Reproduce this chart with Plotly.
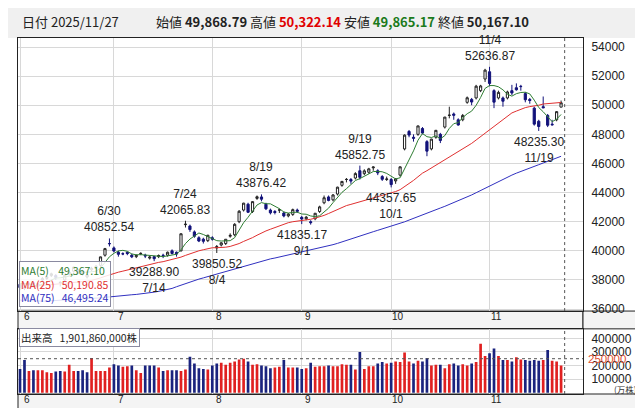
import plotly.graph_objects as go
import pandas as pd
import numpy as np

# ---- data ----
holidays = ["2025-07-21","2025-08-11","2025-09-15","2025-09-23","2025-10-13","2025-11-03","2025-11-24"]
dates = [d for d in pd.bdate_range("2025-06-02","2025-11-27") if d.strftime("%Y-%m-%d") not in holidays]

open_ = [37700,37450,37700,37800,37600,38000,38100,38300,38300,37800,38000,38400,38600,38700,38600,38200,38700,38900,39000,39700,40500,
 40200,39900,39800,39900,39700,39600,39800,39700,39500,39600,39600,39700,39700,40000,39900,40000,41800,41700,41300,40900,40800,40700,
 40900,40200,40400,40500,41000,41100,42000,42800,43200,42700,43600,43700,43200,42800,42700,42800,42600,42400,42500,42800,
 42300,42200,42000,42200,42700,43300,43700,43500,43900,44500,44900,44900,45000,45500,45300,45400,45700,45500,45100,44900,
 44900,44800,45200,47000,48200,47800,48000,48400,47500,47000,47800,48000,48500,49300,49400,49000,49000,50200,50400,50500,51000,51800,
 52300,51000,50500,50500,50500,51000,51200,51300,50800,50400,49800,48900,49900,49300,48700,49000,49868.79]
high = [37700,37600,37850,37900,37800,38200,38300,38500,38400,37900,38350,38600,38900,38750,38700,38400,38900,39000,39600,40200,40852.54,
 40300,40000,39900,39950,39800,39750,39900,39800,39650,39650,39750,39800,39950,40100,39950,41200,42065.83,41800,41400,41000,40900,41100,
 41000,40400,40600,40800,41200,41900,42800,43300,43300,43400,43800,43876.42,43300,42900,42800,42900,42700,42600,42900,42900,
 42400,42400,42100,42600,43100,43800,43800,43900,44400,44800,45000,45000,45400,45852.75,45600,45700,45800,45600,45200,45100,
 45000,45000,45800,48000,48300,48000,48600,48500,47600,47700,48300,48100,49200,49900,49500,49100,49400,50600,50500,51400,51400,52500,
 52636.87,51100,51000,50600,51000,51400,51500,51400,50900,50500,49900,49000,50600,49400,49000,49600,50322.14]
low = [37300,37300,37600,37500,37500,37900,38000,38200,38000,37550,37900,38300,38500,38400,38300,38100,38600,38800,38900,39600,40300,
 39900,39600,39700,39700,39500,39500,39700,39500,39400,39288.90,39500,39500,39600,39750,39600,39950,41600,41300,40900,40600,40500,40600,
 40700,39850.52,40300,40400,40900,41000,41900,42700,42600,42600,43500,43400,42800,42500,42500,42600,42300,42300,42400,42600,
 41835.17,42100,41800,42100,42600,43200,43400,43400,43800,44400,44700,44600,44900,44900,45200,45300,45500,45200,44800,44800,
 44357.65,44600,45100,46900,47800,47500,47900,48000,46500,46900,47700,47400,48400,49100,49000,48600,48900,50100,50000,50400,50900,51600,
 51300,49800,50400,49900,50400,50700,51000,51000,50200,50100,48600,48235.30,49800,48500,48600,48900,49865.17]
close = [37470,37446,37747,37554,37741,38088,38211,38421,38173,37834,38311,38536,38885,38488,38403,38354,38790,38942,39584,40150,40487,
 39986,39762,39785,39810,39587,39688,39821,39646,39569,39459,39678,39663,39901,39819,39774,41171,41826,41456,40998,40674,40654,41069,
 40799,40290,40549,40794,41059,41820,42718,43274,42649,43378,43714,43546,42888,42610,42633,42807,42394,42520,42828,42718,
 42188,42310,41938,42580,43018,43643,43459,43837,44372,44768,44902,44790,45303,45045,45493,45630,45754,45354,44913,44932,
 44550,44936,45769,47944,47950,47734,48580,48088,46847,47672,48277,47582,49185,49316,49307,48641,49299,50512,50219,51307,51325,52411,
 51497,50212,50883,50276,50911,50842,51063,51281,50376,50323,48702,48537,49823,48625,48659,49559,50167.10]
# closes before June, used only for moving averages
pre_close = [39150,39270,39100,38780,38680,38250,37260,37150,37160,37150,37780,37700,37420,37030,36890,36820,37050,37530,37000,37390,
 37750,37400,38170,37450,37610,37600,38000,37800,37120,36120,35620,35620,35730,34740,33780,31140,33010,31710,34610,33590,33980,34270,
 34380,33920,34730,34280,34220,35040,35040,35840,35700,35840,36050,36450,36830,37500,37500,38180,37530,37210,37750,37750,38000,37500,
 37300,37500,37530,37160,36990,37530,37720,37620,37720,38000,37970]
volume = [175,240,160,165,165,165,150,145,155,160,155,205,160,160,165,150,255,160,160,160,185,
 210,200,190,195,200,165,145,200,200,200,185,160,165,165,165,160,170,265,215,180,175,170,
 200,215,220,205,220,230,245,250,230,205,210,200,195,180,185,190,240,185,185,185,
 175,180,220,190,195,195,200,195,195,210,205,205,170,300,175,195,195,215,225,215,
 220,230,225,295,230,215,235,230,255,200,205,205,180,210,215,200,210,200,215,225,360,270,
 290,325,270,240,240,230,260,245,240,235,240,235,240,315,235,230,200]
volume = [v*1000 for v in volume]
month_labels = ["6","7","8","9","10","11"]
price_ticks = [36000,38000,40000,42000,44000,46000,48000,50000,52000,54000]
vol_ticks = [100000,200000,300000,400000]
annots = [("6/30","h"),("7/14","l"),("7/24","h"),("8/4","l"),("8/19","h"),("9/1","l"),("9/19","h"),("10/1","l"),("11/4","h"),("11/19","l")]

n = len(close)
x = list(range(n))
allc = pd.Series(pre_close + close)
ma5 = allc.rolling(5).mean().iloc[-n:].values
ma25 = allc.rolling(25).mean().iloc[-n:].values
ma75 = allc.rolling(75).mean().iloc[-n:].values
prev = [pre_close[-1]] + close[:-1]
vcol = ["#e02020" if c >= p else "#1a237e" for c, p in zip(close, prev)]
month_start = [i for i in range(n) if i == 0 or dates[i].month != dates[i-1].month]

PD0, PD1 = 0.233, 0.183   # price domain bottom, volume domain top
BOT = 22
NAVY = "#12127a"
fig = go.Figure()
fig.add_trace(go.Scatter(x=x, y=ma75, mode="lines", line=dict(color="#3030c0", width=1), yaxis="y"))
fig.add_trace(go.Scatter(x=x, y=ma25, mode="lines", line=dict(color="#e03030", width=1), yaxis="y"))
fig.add_trace(go.Scatter(x=x, y=ma5, mode="lines", line=dict(color="#2e7d32", width=1), yaxis="y"))
fig.add_trace(go.Candlestick(x=x, open=open_, high=high, low=low, close=close, yaxis="y",
    increasing=dict(fillcolor="white", line=dict(color="#222222", width=1)),
    decreasing=dict(fillcolor=NAVY, line=dict(color=NAVY, width=1)), whiskerwidth=0))
fig.add_trace(go.Bar(x=x, y=volume, marker=dict(color=vcol, line=dict(width=0)), width=0.6, yaxis="y2", xaxis="x2"))

FONT = "Liberation Sans, Noto Sans CJK JP"
anns = []
for d, kind in annots:
    m, dd = map(int, d.split("/"))
    i = next(k for k in range(n) if dates[k].month == m and dates[k].day == dd)
    if kind == "h":
        anns.append(dict(x=i, y=high[i], text=f"{d}<br>{high[i]:.2f}", showarrow=False, yanchor="bottom", yshift=2,
                         font=dict(size=12, color="#222")))
    else:
        anns.append(dict(x=i, y=low[i], text=f"{low[i]:.2f}<br>{d}", showarrow=False, yanchor="top", yshift=-2,
                         font=dict(size=12, color="#222")))
for xr_ in ["x", "x2"]:
    yy = PD0 if xr_ == "x" else 0.0
    for i, lab in zip(month_start, month_labels):
        anns.append(dict(x=i + 1.5, y=yy, xref=xr_, yref="paper", text=lab, showarrow=False, yanchor="top",
                         borderpad=0, yshift=1, font=dict(size=10, color="#222")))
anns += [
    dict(x=0.004, y=1.0, xref="paper", yref="paper", yshift=28, xanchor="left", yanchor="top", showarrow=False,
         text="日付 2025/11/27", font=dict(size=13, color="#222", family="Noto Sans CJK JP")),
    dict(x=0.24, y=1.0, xref="paper", yref="paper", yshift=28, xanchor="left", yanchor="top", showarrow=False,
         text="始値 <b>49,868.79</b> 高値 <b><span style='color:#e00000'>50,322.14</span></b> 安値 <b><span style='color:#1b7a1b'>49,865.17</span></b> 終値 <b>50,167.10</b>",
         font=dict(size=13, color="#222", family="Noto Sans CJK JP")),
    dict(x=0.002, y=PD0 + 0.01, xref="paper", yref="paper", xanchor="left", yanchor="bottom", showarrow=False, align="left",
         text="<span style='color:#2e7d32'>MA(5)    49,367.10</span><br><span style='color:#e03030'>MA(25)   50,190.85</span><br><span style='color:#3030c0'>MA(75)   46,495.24</span>",
         bgcolor="rgba(255,255,255,0.85)", bordercolor="#8a8aa0", borderwidth=1, borderpad=1,
         font=dict(size=10.5, family="Noto Sans CJK JP")),
    dict(x=0.002, y=PD1 + 0.002, xref="paper", yref="paper", xanchor="left", yanchor="top", showarrow=False,
         text="出来高   1,901,860,000株", bgcolor="white", bordercolor="#8a8aa0", borderwidth=1, borderpad=1,
         font=dict(size=10.5, color="#222", family="Noto Sans CJK JP")),
    dict(x=1.0, y=250000, xref="paper", yref="y2", xanchor="left", xshift=3, showarrow=False, text="250000",
         font=dict(size=11.5, color="#e05030")),
    dict(x=1.0, y=0.0, xref="paper", yref="paper", xanchor="left", yanchor="bottom", xshift=30, yshift=-2, showarrow=False, text="(万株)",
         borderpad=0, font=dict(size=8.5, color="#333", family="Noto Sans CJK JP")),
]
anns = [dict(a, xref=a.get("xref", "x"), yref=a.get("yref", "y")) for a in anns]

shapes = [
    dict(type="rect", xref="paper", yref="paper", x0=-0.02, x1=1.2, y0=1.0, y1=1.09, fillcolor="#f0f0f0", line_width=0, layer="below"),
    dict(type="rect", xref="paper", yref="paper", x0=0, x1=1.0, y0=PD1, y1=PD0, fillcolor="#f4f4f4", line=dict(color="#222", width=1), layer="below"),
    dict(type="rect", xref="paper", yref="paper", x0=0, x1=1.2, y0=-0.06, y1=0.0, fillcolor="#f4f4f4", line=dict(color="#222", width=1), layer="below"),
    dict(type="rect", xref="paper", yref="paper", x0=1.0, x1=1.2, y0=PD1, y1=PD0, fillcolor="#f4f4f4", line=dict(color="#222", width=1), layer="below"),
    dict(type="line", xref="x", yref="paper", x0=n - 0.2, x1=n - 0.2, y0=PD0, y1=1, line=dict(color="#555", width=1, dash="dot")),
    dict(type="line", xref="x2", yref="paper", x0=n - 0.2, x1=n - 0.2, y0=0, y1=PD1, line=dict(color="#555", width=1, dash="dot")),
    dict(type="line", xref="paper", yref="y2", x0=0, x1=1, y0=250000, y1=250000, line=dict(color="#555", width=1, dash="dot")),
]

xr = [-0.45, n - 1 + 4.9]
fig.update_layout(
    width=643, height=408, margin=dict(l=10, r=68, t=30, b=BOT),
    paper_bgcolor="white", plot_bgcolor="white", showlegend=False,
    font=dict(family=FONT, size=12, color="#222"),
    xaxis=dict(domain=[0, 1], range=xr, tickvals=month_start, showticklabels=False, showgrid=True, gridcolor="#d8d8d8",
               rangeslider=dict(visible=False), zeroline=False, showline=True, linecolor="#222", mirror=True, anchor="y"),
    xaxis2=dict(domain=[0, 1], range=xr, tickvals=month_start, showticklabels=False, showgrid=True, gridcolor="#d8d8d8",
                zeroline=False, showline=True, linecolor="#222", mirror=True, anchor="y2"),
    yaxis=dict(domain=[PD0, 1], range=[35863, 54618], side="right", tickvals=price_ticks, tickformat="d", showgrid=True, gridcolor="#d8d8d8",
               zeroline=False, showline=True, linecolor="#222", mirror=True, ticks="", tickfont=dict(size=12), ticklabelstandoff=5),
    yaxis2=dict(domain=[0, PD1], range=[-10000, 470000], side="right", tickvals=vol_ticks, tickformat="d", showgrid=True, gridcolor="#d8d8d8",
                zeroline=False, showline=True, linecolor="#222", mirror=True, ticks="", tickfont=dict(size=12), ticklabelstandoff=5),
    annotations=anns, shapes=shapes, bargap=0.3,
)
fig.write_html("out.html")
